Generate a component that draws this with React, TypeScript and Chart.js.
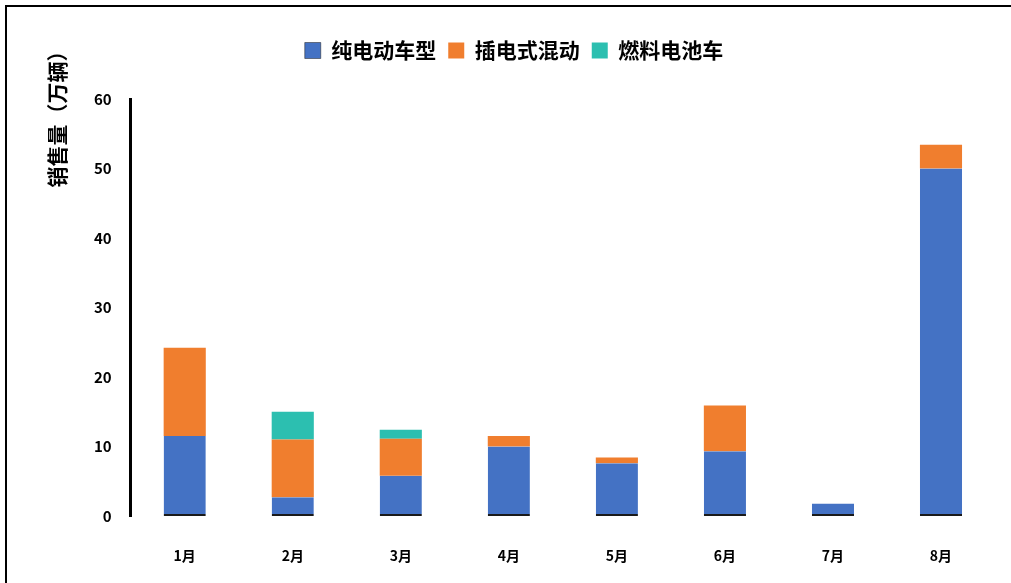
import React, { useEffect, useRef } from "react";
import { Chart, registerables } from "chart.js";

Chart.register(...registerables);

const months = ["1月", "2月", "3月", "4月", "5月", "6月", "7月", "8月"];
const seriesNames = ["纯电动车型", "插电式混动", "燃料电池车"];
const bevValues = [11.5, 2.7, 5.8, 10.0, 7.6, 9.3, 1.8, 50.0];
const phevValues = [12.7, 8.3, 5.3, 1.5, 0.8, 6.6, null, 3.4];
const fcevValues = [null, 4.0, 1.3, null, null, null, null, null];
const yTicks = [0, 10, 20, 30, 40, 50, 60];
const yTitle = "销售量（万辆）";

const FONT = "'Noto Sans CJK SC', 'Noto Sans', sans-serif";

// Vertical axis title sits in the top-left corner, beside the top of the axis.
const yTitlePlugin = {
  id: "yTitle",
  afterDraw(chart: any) {
    const ctx = chart.ctx;
    ctx.save();
    ctx.translate(57, 114);
    ctx.rotate(-Math.PI / 2);
    ctx.font = `bold 21px ${FONT}`;
    ctx.fillStyle = "#000";
    ctx.textAlign = "center";
    ctx.textBaseline = "middle";
    ctx.fillText(yTitle, 0, 0);
    ctx.restore();
  },
};

// Extra gap below the legend, and the legend centred on the page rather than the plot.
const legendPlacementPlugin = {
  id: "legendPlacement",
  beforeInit(chart: any) {
    const legend = chart.legend;
    if (!legend) return;
    const origFit = legend.fit;
    legend.fit = function () {
      origFit.call(this);
      this.height += 28;
    };
    const origDraw = legend.draw;
    legend.draw = function () {
      const ctx = this.ctx;
      ctx.save();
      ctx.translate(-25, 0);
      origDraw.call(this);
      ctx.restore();
    };
  },
};

export default function App() {
  const ref = useRef<HTMLCanvasElement>(null);

  useEffect(() => {
    document.body.style.margin = "0";
    const chart = new Chart(ref.current!, {
      type: "bar",
      data: {
        labels: months,
        datasets: [
          {
            label: seriesNames[0],
            data: bevValues,
            backgroundColor: "#4472C4",
            borderColor: "#1a1a1a",
            borderWidth: { top: 0, left: 0, right: 0, bottom: 2 },
            borderSkipped: false,
          },
          {
            label: seriesNames[1],
            data: phevValues,
            backgroundColor: "#F07E2E",
            borderWidth: 0,
          },
          {
            label: seriesNames[2],
            data: fcevValues,
            backgroundColor: "#2CBFB0",
            borderWidth: 0,
          },
        ],
      },
      options: {
        animation: false,
        responsive: false,
        maintainAspectRatio: false,
        layout: { padding: { top: 28, left: 83, right: 16, bottom: 0 } },
        datasets: {
          bar: { categoryPercentage: 1, barPercentage: 0.39 },
        },
        plugins: {
          legend: {
            position: "top",
            labels: {
              boxWidth: 16,
              boxHeight: 16,
              padding: 12,
              color: "#000",
              font: { family: FONT, size: 21, weight: "bold" },
            },
          },
          tooltip: { enabled: false },
        },
        scales: {
          x: {
            stacked: true,
            grid: { display: false },
            border: { display: false },
            afterFit(axis: any) {
              axis.height = 67;
            },
            ticks: {
              color: "#000",
              padding: 23,
              font: { family: FONT, size: 14, weight: "bold" },
            },
          },
          y: {
            stacked: true,
            min: 0,
            max: 60,
            afterBuildTicks(axis: any) {
              axis.ticks = yTicks.map((v) => ({ value: v }));
            },
            grid: { display: false },
            border: { display: true, color: "#000", width: 3 },
            ticks: {
              color: "#000",
              padding: 11,
              font: { family: FONT, size: 15, weight: "bold" },
            },
          },
        },
      },
      plugins: [legendPlacementPlugin, yTitlePlugin],
    });
    return () => chart.destroy();
  }, []);

  return (
    <div style={{ position: "relative", width: 1011, height: 583, background: "#fff" }}>
      <canvas ref={ref} width={1011} height={583} style={{ display: "block" }} />
      <div style={{ position: "absolute", left: 5, top: 5, width: 1006, height: 2, background: "#000" }} />
      <div style={{ position: "absolute", left: 5, top: 5, width: 2, height: 578, background: "#000" }} />
    </div>
  );
}
